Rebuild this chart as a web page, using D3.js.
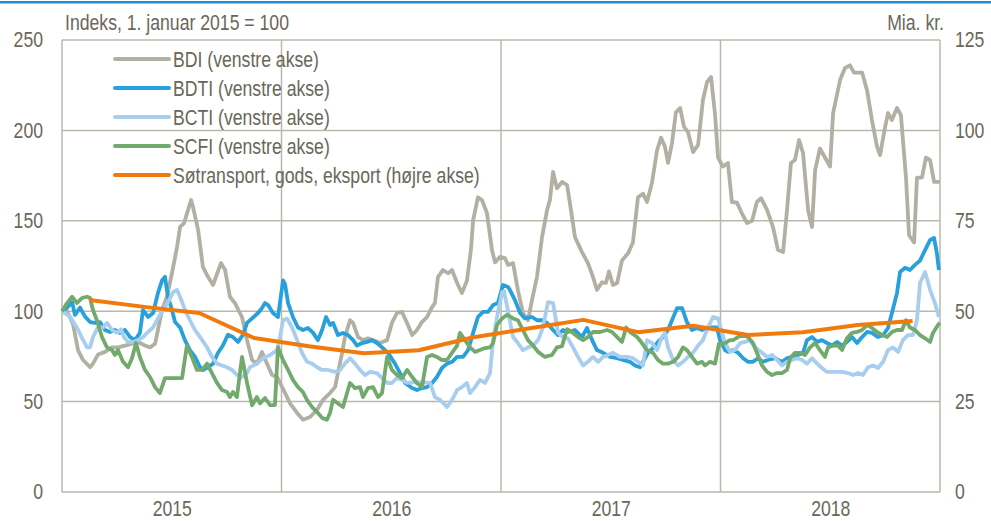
<!DOCTYPE html>
<html>
<head>
<meta charset="utf-8">
<script src="https://cdn.jsdelivr.net/npm/d3@7"></script>
<style>
  body { margin: 0; background: #fff; }
  svg { display: block; }
</style>
</head>
<body>
<svg id="chart" width="991" height="521"></svg>
<script>
// Time is given as decimal year, values are index (1. jan 2015 = 100)
var bdi = [[2015.000,100],[2015.023,100],[2015.050,93],[2015.073,78.5],[2015.096,73],[2015.128,69],[2015.141,71],[2015.164,76],[2015.196,77.5],[2015.228,80],[2015.255,80],[2015.287,81],[2015.319,82],[2015.346,83],[2015.378,81],[2015.401,80],[2015.424,82],[2015.437,89.6],[2015.456,100.7],[2015.478,108],[2015.501,121],[2015.524,135.5],[2015.538,146.6],[2015.556,148.7],[2015.588,161.5],[2015.597,157.6],[2015.620,145],[2015.642,124.5],[2015.665,119],[2015.688,114.5],[2015.724,126.6],[2015.743,122.8],[2015.765,108],[2015.788,104.5],[2015.820,96.8],[2015.843,84],[2015.866,73],[2015.888,71],[2015.911,77.5],[2015.934,71],[2015.957,64.7],[2015.980,63.6],[2016.007,57],[2016.039,49],[2016.071,43.7],[2016.098,40],[2016.130,41.5],[2016.162,45.4],[2016.189,51],[2016.221,54.7],[2016.244,58],[2016.257,65.8],[2016.276,76.8],[2016.289,85.7],[2016.312,95],[2016.326,93.5],[2016.349,85.7],[2016.371,84],[2016.394,85],[2016.417,84],[2016.449,82.4],[2016.481,84],[2016.503,93.5],[2016.526,99],[2016.549,99.6],[2016.572,93.5],[2016.595,86.8],[2016.617,89.6],[2016.640,94],[2016.663,96.8],[2016.686,102.3],[2016.699,104.5],[2016.713,119],[2016.736,122.8],[2016.759,121],[2016.777,122.8],[2016.800,115.6],[2016.822,110],[2016.845,117],[2016.863,133.8],[2016.873,150.4],[2016.895,163],[2016.913,161.5],[2016.936,154.3],[2016.959,133.8],[2016.973,127],[2016.995,130],[2017.018,129.4],[2017.032,125.6],[2017.055,126.6],[2017.077,111.7],[2017.100,99],[2017.123,95],[2017.141,106],[2017.164,119],[2017.187,141],[2017.210,156],[2017.223,161.5],[2017.237,177],[2017.255,168],[2017.278,171.5],[2017.301,169.8],[2017.314,159.8],[2017.337,141],[2017.369,132.7],[2017.396,126.6],[2017.419,119],[2017.437,111.7],[2017.460,116],[2017.478,115.6],[2017.492,122],[2017.510,114.5],[2017.529,115.6],[2017.551,128],[2017.579,132],[2017.601,138],[2017.624,163],[2017.647,165],[2017.665,160.4],[2017.688,171],[2017.711,189],[2017.729,196],[2017.747,191],[2017.761,182],[2017.779,193],[2017.797,210],[2017.816,212.4],[2017.834,202],[2017.852,199],[2017.875,188],[2017.898,192],[2017.920,216.8],[2017.939,226.8],[2017.957,229.5],[2017.975,209],[2017.989,185],[2018.011,180],[2018.034,182],[2018.052,160.4],[2018.075,160],[2018.098,154],[2018.121,148.7],[2018.144,150],[2018.166,160.4],[2018.185,162.5],[2018.212,156],[2018.239,146.6],[2018.262,133.8],[2018.285,132.7],[2018.303,156],[2018.321,182],[2018.339,183.6],[2018.358,194.7],[2018.376,187.5],[2018.399,156],[2018.417,146.6],[2018.431,178],[2018.453,190],[2018.476,185],[2018.499,180],[2018.513,209.6],[2018.545,228],[2018.567,234.5],[2018.590,236],[2018.608,232],[2018.645,232],[2018.668,222],[2018.690,205.7],[2018.713,191],[2018.727,186.4],[2018.750,202],[2018.763,209.6],[2018.781,205.7],[2018.804,212.4],[2018.822,208.5],[2018.845,174],[2018.859,142],[2018.882,138],[2018.895,173.7],[2018.918,174],[2018.936,185],[2018.955,183.6],[2018.973,171.5],[2019.000,171.5]];

var bdti = [[2015.000,100],[2015.023,102],[2015.046,105],[2015.059,98],[2015.082,102],[2015.105,97],[2015.128,94],[2015.150,93.5],[2015.173,94],[2015.196,89.6],[2015.219,88.5],[2015.241,89.6],[2015.264,88],[2015.287,89.6],[2015.310,85.7],[2015.333,84],[2015.355,88],[2015.369,100.7],[2015.392,96.8],[2015.415,99],[2015.437,110],[2015.456,117],[2015.469,119],[2015.483,108],[2015.501,100.7],[2015.515,94],[2015.538,91],[2015.560,84],[2015.583,78.5],[2015.606,74.7],[2015.629,69],[2015.642,67.5],[2015.665,69],[2015.688,71],[2015.711,77],[2015.733,81],[2015.756,87],[2015.779,85.7],[2015.802,83],[2015.825,87],[2015.843,93.5],[2015.866,96],[2015.893,99],[2015.911,101.7],[2015.925,104.5],[2015.939,103.4],[2015.961,99],[2015.984,96.8],[2016.007,117],[2016.016,115],[2016.030,104.5],[2016.052,96.8],[2016.075,91],[2016.098,89.6],[2016.121,90.7],[2016.144,88],[2016.166,84],[2016.185,89.6],[2016.203,96.8],[2016.221,92.4],[2016.235,93.5],[2016.257,86.8],[2016.280,88],[2016.303,86.8],[2016.326,84],[2016.344,81],[2016.367,82.4],[2016.390,83],[2016.412,84],[2016.435,82.4],[2016.458,80],[2016.485,77],[2016.517,71],[2016.540,65.8],[2016.563,60.3],[2016.595,57.5],[2016.617,56.4],[2016.640,57.5],[2016.663,58],[2016.686,60.3],[2016.708,63.6],[2016.731,68.6],[2016.754,71],[2016.777,72],[2016.800,74.7],[2016.827,74.7],[2016.850,78.5],[2016.873,88],[2016.895,96.8],[2016.918,99.6],[2016.941,99.6],[2016.964,103.4],[2016.986,104.5],[2017.009,114.5],[2017.032,113.4],[2017.041,111.7],[2017.064,106],[2017.087,99],[2017.109,96],[2017.141,96.8],[2017.164,95],[2017.187,95],[2017.210,93.5],[2017.237,89.6],[2017.260,86.8],[2017.282,89.6],[2017.305,88.5],[2017.337,89.6],[2017.369,85.7],[2017.392,90.7],[2017.415,84],[2017.437,78.5],[2017.465,77],[2017.497,74.7],[2017.529,74],[2017.556,73],[2017.588,72],[2017.610,70],[2017.633,69],[2017.647,72],[2017.670,77],[2017.692,79.6],[2017.715,83],[2017.738,85.7],[2017.761,89.6],[2017.779,95],[2017.802,101.7],[2017.825,101.7],[2017.847,94],[2017.870,89.6],[2017.893,90.7],[2017.916,89.6],[2017.939,91],[2017.961,91],[2017.984,91],[2017.998,84],[2018.021,78.5],[2018.034,77.5],[2018.057,78.5],[2018.080,77],[2018.103,74],[2018.125,72],[2018.148,72],[2018.171,74],[2018.194,72],[2018.216,73],[2018.248,74],[2018.280,72],[2018.303,74],[2018.330,74.7],[2018.353,75.8],[2018.376,77],[2018.394,84],[2018.417,85.7],[2018.440,83],[2018.462,84],[2018.485,82.4],[2018.508,81],[2018.531,83],[2018.554,81],[2018.576,83],[2018.599,85.7],[2018.622,82.4],[2018.645,85.7],[2018.668,88.5],[2018.690,88],[2018.718,85.7],[2018.741,86.8],[2018.763,90.7],[2018.781,99],[2018.804,110],[2018.818,121.7],[2018.841,124],[2018.863,122.8],[2018.886,125.6],[2018.909,128],[2018.932,133.8],[2018.955,139.4],[2018.973,140.5],[2018.986,132],[2018.995,122.8]];

var bcti = [[2015.000,100],[2015.036,97],[2015.068,91],[2015.096,84],[2015.114,80],[2015.128,80],[2015.141,85.7],[2015.164,91],[2015.187,91],[2015.205,93.5],[2015.228,89.6],[2015.251,88],[2015.269,90],[2015.282,85.7],[2015.301,83],[2015.324,83],[2015.346,84],[2015.369,85.7],[2015.392,88.5],[2015.415,91],[2015.437,96],[2015.460,100.7],[2015.483,105],[2015.506,110.6],[2015.524,111.7],[2015.538,108],[2015.560,100.7],[2015.583,95],[2015.606,89.6],[2015.629,85.7],[2015.661,80],[2015.683,74.7],[2015.706,71],[2015.729,70],[2015.752,69],[2015.775,67.5],[2015.797,64.7],[2015.820,63.6],[2015.843,65.8],[2015.856,69],[2015.888,71],[2015.916,74],[2015.948,75.8],[2015.980,78.5],[2015.993,85.7],[2016.007,95],[2016.025,96],[2016.048,91],[2016.071,84],[2016.093,77],[2016.116,72],[2016.139,71],[2016.162,69],[2016.185,67.5],[2016.212,67.5],[2016.244,66.4],[2016.267,67.5],[2016.289,71],[2016.312,74],[2016.335,71],[2016.358,67.5],[2016.380,64.7],[2016.403,66.4],[2016.435,65.8],[2016.458,63],[2016.481,60.3],[2016.503,60.3],[2016.526,63],[2016.549,62],[2016.572,60.3],[2016.617,60.8],[2016.677,60.3],[2016.699,52.5],[2016.722,51],[2016.754,47],[2016.777,51],[2016.800,56.4],[2016.822,58],[2016.845,60.3],[2016.859,54.7],[2016.882,58],[2016.904,62],[2016.927,60.3],[2016.950,65.8],[2016.964,84],[2016.982,96.8],[2017.005,110.5],[2017.014,111],[2017.032,100],[2017.055,85.7],[2017.077,82.4],[2017.100,78.5],[2017.123,80],[2017.146,81],[2017.169,84],[2017.191,91],[2017.214,105],[2017.237,104.5],[2017.260,88],[2017.282,85.7],[2017.305,85],[2017.328,80],[2017.351,74.7],[2017.374,70],[2017.396,72],[2017.419,74.7],[2017.442,72],[2017.465,74.7],[2017.487,75.8],[2017.510,77],[2017.542,74.7],[2017.574,74.7],[2017.601,74],[2017.624,72],[2017.647,70],[2017.665,84],[2017.688,82.4],[2017.711,78.5],[2017.733,85.7],[2017.747,88],[2017.761,80],[2017.784,73],[2017.807,70],[2017.829,72],[2017.852,74.7],[2017.875,77],[2017.898,81],[2017.920,84],[2017.943,91],[2017.966,96.8],[2017.989,96],[2018.007,88],[2018.021,82.4],[2018.043,77.5],[2018.066,78.5],[2018.089,82.4],[2018.112,83],[2018.134,84],[2018.157,80],[2018.189,77],[2018.212,74.7],[2018.235,75.8],[2018.258,73],[2018.280,70],[2018.303,72],[2018.326,73],[2018.349,74],[2018.371,73],[2018.394,71],[2018.417,74],[2018.440,71],[2018.462,68.6],[2018.485,66.4],[2018.554,66.4],[2018.581,65.8],[2018.604,64.7],[2018.627,65.8],[2018.649,64.7],[2018.672,69],[2018.695,70],[2018.718,68.6],[2018.741,72],[2018.763,78.5],[2018.786,80],[2018.809,77.5],[2018.831,84],[2018.854,86.8],[2018.877,86.8],[2018.895,95],[2018.909,115.6],[2018.932,121.7],[2018.955,111.7],[2018.977,104.5],[2018.995,96.8]];

var scfi = [[2015.000,100],[2015.023,104.5],[2015.046,108],[2015.068,104.5],[2015.091,107.3],[2015.114,108],[2015.128,107.3],[2015.141,100.7],[2015.159,95],[2015.182,85.7],[2015.205,80],[2015.228,78.5],[2015.241,75.8],[2015.255,78.5],[2015.278,72],[2015.301,69],[2015.319,74],[2015.337,82.4],[2015.355,74.7],[2015.378,67.5],[2015.401,63.6],[2015.424,58],[2015.446,54.7],[2015.469,63],[2015.547,63],[2015.569,81],[2015.592,74.7],[2015.615,67.5],[2015.638,67.5],[2015.661,71],[2015.683,65.8],[2015.706,60.3],[2015.729,56.4],[2015.752,55.3],[2015.765,52.5],[2015.779,55.3],[2015.797,52.5],[2015.820,74.7],[2015.843,60.3],[2015.866,48],[2015.888,52.5],[2015.902,49],[2015.925,52],[2015.948,48],[2015.970,48],[2015.984,80],[2016.007,73],[2016.030,67.5],[2016.052,62],[2016.075,58],[2016.098,55.3],[2016.116,51],[2016.139,47],[2016.162,44.3],[2016.185,41],[2016.207,40],[2016.221,43.7],[2016.235,51],[2016.257,49],[2016.280,47],[2016.312,60.3],[2016.335,57.5],[2016.358,58],[2016.371,52.5],[2016.394,57.5],[2016.417,58],[2016.440,52.5],[2016.458,54.7],[2016.481,74.7],[2016.503,67.5],[2016.526,64.7],[2016.549,63],[2016.572,67.5],[2016.595,63.6],[2016.617,60.3],[2016.640,58],[2016.663,74.7],[2016.686,75.8],[2016.708,74.7],[2016.731,73],[2016.754,73],[2016.777,77],[2016.800,81],[2016.813,88],[2016.836,84],[2016.859,80],[2016.882,77.5],[2016.904,78.5],[2016.927,79.6],[2016.950,80],[2016.964,82.4],[2016.982,92.4],[2017.005,96],[2017.028,98],[2017.055,96],[2017.077,95],[2017.100,89.6],[2017.123,84],[2017.146,81],[2017.169,77.5],[2017.200,74.7],[2017.232,75.8],[2017.255,80],[2017.278,80.7],[2017.301,90],[2017.323,88.5],[2017.351,85.7],[2017.374,84],[2017.396,85.7],[2017.419,88.5],[2017.451,88.5],[2017.483,89.6],[2017.506,88.5],[2017.529,85.7],[2017.551,83],[2017.570,91],[2017.588,88.5],[2017.620,85.7],[2017.642,82.4],[2017.665,78.5],[2017.692,77],[2017.715,73],[2017.738,71],[2017.761,71],[2017.784,72],[2017.807,74.7],[2017.829,80],[2017.847,78.5],[2017.870,74.7],[2017.893,71],[2017.916,72],[2017.929,70],[2017.952,72],[2017.975,71],[2017.993,82],[2018.021,82.4],[2018.043,84],[2018.057,84],[2018.080,85.7],[2018.103,86.8],[2018.125,85.7],[2018.148,82.4],[2018.166,77],[2018.189,70],[2018.212,66.4],[2018.235,64.7],[2018.258,65.8],[2018.280,65.8],[2018.303,67.5],[2018.317,74],[2018.339,77],[2018.362,77],[2018.385,75.8],[2018.408,80],[2018.431,82.4],[2018.453,78.5],[2018.476,74.7],[2018.490,80],[2018.513,81],[2018.535,81],[2018.554,78.5],[2018.576,85],[2018.599,88],[2018.622,88.5],[2018.645,89.6],[2018.668,92.4],[2018.690,90.7],[2018.713,88.5],[2018.736,86.8],[2018.759,85.7],[2018.781,88.5],[2018.804,89.6],[2018.827,89.6],[2018.845,95],[2018.863,91],[2018.886,89.6],[2018.909,86.8],[2018.932,85],[2018.955,83],[2018.968,88],[2018.991,92.4],[2019.000,93.5]];

// Søtransport, gods, eksport - mia. kr. per kvartal (right axis)
var kvartaler = ["2015K1","2015K2","2015K3","2015K4","2016K1","2016K2","2016K3","2016K4","2017K1","2017K2","2017K3","2017K4","2018K1","2018K2","2018K3","2018K4"];
var eksport = [53.1, 51.2, 49.5, 42.6, 40.3, 38.4, 39.2, 42.8, 45.2, 47.6, 44.2, 46.0, 43.4, 44.2, 46.2, 47.3];

var leftTicks = [0, 50, 100, 150, 200, 250];
var rightTicks = [0, 25, 50, 75, 100, 125];
var years = [2015, 2016, 2017, 2018];

var seriesNames = ["BDI (venstre akse)", "BDTI (venstre akse)", "BCTI (venstre akse)", "SCFI (venstre akse)", "Søtransport, gods, eksport (højre akse)"];
var seriesColors = ["#b2b0a3", "#27a0dc", "#a7cdef", "#72aa6d", "#f07b0c"];

var FONT = "'Liberation Sans Narrow', 'Arial Narrow', 'Liberation Sans', Arial, sans-serif";
var FONT_SIZE = 21.5;
var TEXT_COLOR = "#6a675a";
var GRID_COLOR = "#bab8ad";

var svg = d3.select("#chart");

var x = d3.scaleLinear().domain([2015, 2019]).range([62, 940]);
var yLeft = d3.scaleLinear().domain([0, 250]).range([492, 40]);
var yRight = d3.scaleLinear().domain([0, 125]).range([492, 40]);

// blue rule along the top
svg.append("rect")
  .attr("x", 0).attr("y", 1)
  .attr("width", 991).attr("height", 2.5)
  .attr("fill", "#1a8fd2");

// horizontal gridlines
svg.append("g").selectAll("line")
  .data(leftTicks)
  .enter().append("line")
  .attr("x1", x(2015)).attr("x2", x(2019))
  .attr("y1", function(d) { return yLeft(d); })
  .attr("y2", function(d) { return yLeft(d); })
  .attr("stroke", GRID_COLOR)
  .attr("stroke-width", 1.5);

// year separators plus the frame sides
svg.append("g").selectAll("line")
  .data([2015, 2016, 2017, 2018, 2019])
  .enter().append("line")
  .attr("x1", function(d) { return x(d); })
  .attr("x2", function(d) { return x(d); })
  .attr("y1", yLeft(250)).attr("y2", yLeft(0))
  .attr("stroke", GRID_COLOR)
  .attr("stroke-width", 1.5);

function styleAxis(g) {
  g.select(".domain").remove();
  g.selectAll("text")
    .attr("font-family", FONT)
    .attr("font-size", FONT_SIZE)
    .attr("fill", TEXT_COLOR);
}

svg.append("g")
  .attr("transform", "translate(" + x(2015) + ",0)")
  .call(d3.axisLeft(yLeft).tickValues(leftTicks).tickSize(0).tickPadding(19))
  .call(styleAxis);

svg.append("g")
  .attr("transform", "translate(" + x(2019) + ",0)")
  .call(d3.axisRight(yRight).tickValues(rightTicks).tickSize(0).tickPadding(15))
  .call(styleAxis);

svg.append("g")
  .attr("transform", "translate(0," + yLeft(0) + ")")
  .call(d3.axisBottom(x)
    .tickValues(years.map(function(y) { return y + 0.5; }))
    .tickFormat(function(d) { return Math.floor(d); })
    .tickSize(0).tickPadding(9))
  .call(styleAxis);

// unit labels
svg.append("text")
  .attr("x", 65).attr("y", 29.5)
  .attr("font-family", FONT).attr("font-size", FONT_SIZE).attr("fill", TEXT_COLOR)
  .text("Indeks, 1. januar 2015 = 100");

svg.append("text")
  .attr("x", 944).attr("y", 29.5)
  .attr("text-anchor", "end")
  .attr("font-family", FONT).attr("font-size", FONT_SIZE).attr("fill", TEXT_COLOR)
  .text("Mia. kr.");

// series
var lineLeft = d3.line()
  .x(function(d) { return x(d[0]); })
  .y(function(d) { return yLeft(d[1]); });

var lineRight = d3.line()
  .x(function(d) { return x(d[0]); })
  .y(function(d) { return yRight(d[1]); });

var kvartalData = kvartaler.map(function(k, i) {
  var yr = +k.slice(0, 4), q = +k.slice(5);
  return [yr + (q - 1) * 0.25 + 0.125, eksport[i]];
});

var leftSeries = [bdi, bdti, bcti, scfi];
svg.append("g").selectAll("path")
  .data(leftSeries)
  .enter().append("path")
  .attr("d", lineLeft)
  .attr("fill", "none")
  .attr("stroke", function(d, i) { return seriesColors[i]; })
  .attr("stroke-width", 3.8)
  .attr("stroke-linejoin", "round");

svg.append("path")
  .datum(kvartalData)
  .attr("d", lineRight)
  .attr("fill", "none")
  .attr("stroke", seriesColors[4])
  .attr("stroke-width", 4)
  .attr("stroke-linejoin", "round");

// legend
var legend = svg.append("g").attr("transform", "translate(115,59)");
var rows = legend.selectAll("g")
  .data(seriesNames)
  .enter().append("g")
  .attr("transform", function(d, i) { return "translate(0," + (i * 29) + ")"; });

rows.append("line")
  .attr("x1", 0).attr("x2", 54)
  .attr("stroke", function(d, i) { return seriesColors[i]; })
  .attr("stroke-width", 4)
  .attr("stroke-linecap", "round");

rows.append("text")
  .attr("x", 58).attr("y", 7.5)
  .attr("font-family", FONT).attr("font-size", FONT_SIZE).attr("fill", TEXT_COLOR)
  .text(function(d) { return d; });

// squeeze text if no narrow face is installed
function narrowFix() {
  var probe = svg.append("text").attr("font-family", FONT).attr("font-size", FONT_SIZE).text("Indeks 2015");
  var w1 = probe.node().getComputedTextLength();
  probe.attr("font-family", "'Liberation Sans', Arial, sans-serif");
  var w2 = probe.node().getComputedTextLength();
  probe.remove();
  if (w1 / w2 > 0.9) {
    svg.selectAll("text").each(function() {
      var w = this.getComputedTextLength();
      d3.select(this).attr("textLength", w * 0.82).attr("lengthAdjust", "spacingAndGlyphs");
    });
  }
}
narrowFix();
</script>
</body>
</html>
